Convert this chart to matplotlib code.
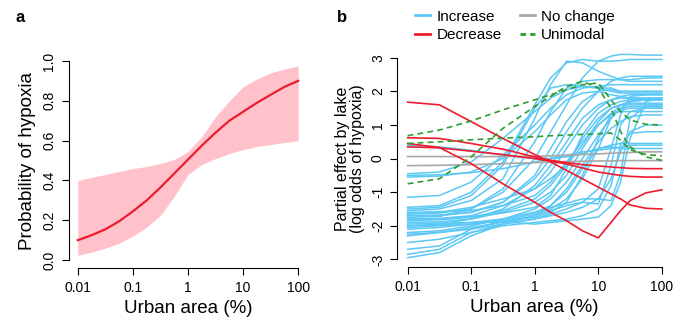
import numpy as np
import matplotlib.pyplot as plt

plt.rcParams['font.family'] = ['Liberation Sans', 'DejaVu Sans']

# ---- panel a: fitted probability of hypoxia vs urban area ----
urban_a = [-2, -1.75, -1.5, -1.25, -1, -0.75, -0.5, -0.25, 0,
           0.25, 0.5, 0.75, 1, 1.25, 1.5, 1.75, 2]          # log10(%)
prob_mean = [0.10, 0.125, 0.155, 0.195, 0.245, 0.30, 0.365, 0.435, 0.505,
             0.575, 0.64, 0.70, 0.745, 0.79, 0.83, 0.87, 0.90]
prob_upper = [0.40, 0.415, 0.43, 0.445, 0.46, 0.47, 0.485, 0.505, 0.545,
              0.62, 0.72, 0.80, 0.87, 0.91, 0.94, 0.96, 0.975]
prob_lower = [0.025, 0.04, 0.06, 0.085, 0.12, 0.165, 0.225, 0.32, 0.43,
              0.48, 0.51, 0.535, 0.555, 0.57, 0.58, 0.59, 0.60]

# ---- panel b: partial effect by lake (log odds) ----
urban_b = [-2, -1.5, -1, -0.5, 0, 0.25, 0.5, 0.75, 1, 1.2, 1.35, 1.5, 1.75, 2]

increase = [
    [0.4, 0.35, 0.25, 0.1, 0.0, 0.0, 0.05, 0.15, 0.3, 0.4, 0.45, 0.45, 0.45, 0.45],
    [-0.45, -0.4, -0.1, 0.6, 1.4, 1.8, 2.05, 2.15, 2.1, 2.0, 1.95, 1.95, 1.95, 1.95],
    [-0.55, -0.52, -0.4, 0.0, 0.8, 1.3, 1.75, 1.95, 2.0, 1.9, 1.85, 1.8, 1.8, 1.8],
    [-0.5, -0.48, -0.42, -0.3, -0.1, 0.0, 0.1, 0.2, 0.25, 0.3, 0.35, 0.4, 0.4, 0.4],
    [-1.15, -1.1, -0.7, 0.1, 1.0, 1.5, 1.9, 2.1, 2.15, 2.2, 2.2, 2.2, 2.2, 2.2],
    [-1.45, -1.4, -1.0, -0.1, 1.6, 2.4, 2.85, 2.95, 2.9, 2.9, 2.92, 2.95, 2.95, 2.95],
    [-1.55, -1.5, -1.25, -0.6, 1.2, 2.2, 2.9, 2.85, 2.6, 2.45, 2.35, 2.35, 2.4, 2.4],
    [-1.65, -1.62, -1.5, -1.0, 0.0, 0.8, 1.6, 2.4, 2.9, 3.05, 3.1, 3.1, 3.08, 3.08],
    [-1.7, -1.68, -1.6, -1.3, -0.6, 0.0, 0.8, 1.5, 2.0, 2.3, 2.4, 2.45, 2.45, 2.45],
    [-1.75, -1.72, -1.5, -0.9, 0.5, 1.4, 2.1, 2.3, 2.35, 2.35, 2.35, 2.3, 2.3, 2.3],
    [-1.8, -1.78, -1.7, -1.4, -0.9, -0.4, 0.3, 1.0, 1.5, 1.75, 1.85, 1.9, 1.9, 1.9],
    [-1.85, -1.82, -1.75, -1.55, -1.2, -0.8, -0.2, 0.6, 1.2, 1.5, 1.6, 1.65, 1.65, 1.65],
    [-1.9, -1.88, -1.8, -1.5, -0.8, -0.2, 0.5, 1.2, 1.6, 1.75, 1.8, 1.8, 1.8, 1.8],
    [-1.6, -1.58, -1.55, -1.4, -1.1, -0.7, -0.1, 0.5, 1.0, 1.3, 1.45, 1.5, 1.5, 1.5],
    [-1.7, -1.7, -1.6, -1.3, -0.5, 0.3, 1.1, 1.7, 2.0, 2.05, 2.0, 2.0, 2.0, 2.0],
    [-1.8, -1.8, -1.72, -1.62, -1.45, -1.1, -0.3, 0.7, 1.35, 1.6, 1.7, 1.75, 1.75, 1.75],
    [-2.0, -1.98, -1.9, -1.8, -1.5, -1.2, -0.7, 0.0, 0.7, 1.2, 1.5, 1.7, 1.75, 1.75],
    [-2.05, -2.0, -1.95, -1.85, -1.75, -1.6, -1.3, -0.5, 0.6, 1.3, 1.6, 1.7, 1.75, 1.75],
    [-1.95, -1.92, -1.9, -1.88, -1.95, -1.9, -1.85, -1.8, -1.74, -1.4, -0.7, 0.6, 1.7, 1.8],
    [-2.1, -2.05, -1.95, -1.8, -1.6, -1.45, -1.33, -1.2, -1.2, -1.25, -0.45, 1.2, 1.55, 1.6],
    [-2.3, -2.2, -2.05, -1.9, -1.7, -1.55, -1.4, -1.3, -1.35, -0.2, 1.0, 1.4, 1.5, 1.5],
    [-2.5, -2.4, -2.2, -1.95, -1.8, -1.7, -1.6, -1.45, -1.2, -0.6, 0.2, 0.8, 1.0, 1.0],
    [-2.7, -2.6, -2.1, -1.85, -1.65, -1.5, -1.2, -0.6, 0.3, 1.2, 1.5, 1.55, 1.55, 1.55],
    [-2.85, -2.7, -2.2, -2.0, -1.9, -1.85, -1.8, -1.7, -1.5, -0.8, 0.4, 0.75, 0.8, 0.8],
    [-2.95, -2.8, -2.3, -1.95, -1.7, -1.4, -0.9, -0.2, 0.5, 0.9, 1.1, 1.25, 1.3, 1.3],
    [-2.2, -2.15, -2.0, -1.8, -1.6, -1.4, -1.0, -0.3, 0.3, 0.35, 0.3, 0.3, 0.3, 0.3],
    [-1.5, -1.45, -1.1, -0.2, 1.5, 2.1, 2.2, 2.15, 2.1, 2.1, 2.0, 2.0, 2.0, 2.0],
    [-2.25, -2.2, -2.1, -1.95, -1.8, -1.65, -1.5, -1.3, -0.9, 0.3, 1.3, 1.85, 1.9, 1.9],
    [-1.65, -1.6, -1.45, -1.2, -0.9, -0.6, -0.2, 0.4, 1.1, 1.5, 1.6, 1.6, 1.6, 1.6],
    [-2.0, -1.95, -1.8, -1.6, -1.3, -1.0, -0.5, 0.3, 1.0, 1.35, 1.4, 1.4, 1.4, 1.4],
]
decrease = [
    [1.68, 1.6, 1.1, 0.6, 0.12, -0.1, -0.35, -0.6, -0.85, -1.05, -1.2, -1.38, -1.48, -1.5],
    [0.45, 0.33, -0.15, -0.75, -1.3, -1.6, -1.85, -2.15, -2.36, -1.9, -1.55, -1.25, -1.02, -0.93],
    [0.62, 0.6, 0.45, 0.28, 0.05, -0.05, -0.12, -0.18, -0.22, -0.25, -0.27, -0.29, -0.3, -0.3],
    [0.35, 0.32, 0.22, 0.12, 0.0, -0.08, -0.16, -0.28, -0.4, -0.46, -0.5, -0.53, -0.55, -0.55],
]
no_change = [
    [0.06, 0.06, 0.06, 0.06, 0.07, 0.08, 0.1, 0.12, 0.14, 0.16, 0.17, 0.18, 0.2, 0.2],
    [-0.21, -0.2, -0.18, -0.15, -0.12, -0.1, -0.09, -0.08, -0.07, -0.07, -0.06, -0.06, -0.06, -0.06],
]
unimodal = [
    [0.68, 0.85, 1.12, 1.45, 1.75, 1.9, 2.05, 2.2, 2.25, 1.75, 1.4, 1.15, 1.02, 1.0],
    [0.45, 0.5, 0.56, 0.61, 0.65, 0.68, 0.7, 0.72, 0.74, 0.76, 0.55, 0.26, 0.12, 0.08],
    [-0.75, -0.6, 0.05, 0.9, 1.55, 1.85, 2.15, 2.3, 2.1, 1.5, 0.8, 0.35, 0.05, -0.05],
]

tick_vals = [0.01, 0.1, 1, 10, 100]
tick_labels = ['0.01', '0.1', '1', '10', '100']

BLUE = '#5BC8F5'
RED = '#EE1C2E'
GREEN = '#2E9E2E'
GRAY = '#A8A8A8'


def style_axes(ax, ylo, yhi, yticks, ylabels):
    for s in ['top', 'right']:
        ax.spines[s].set_visible(False)
    ax.spines['left'].set_bounds(ylo, yhi)
    ax.spines['bottom'].set_bounds(0.01, 100)
    ax.set_xscale('log')
    ax.set_xlim(10 ** -2.16, 10 ** 2.16)
    ax.set_xticks(tick_vals)
    ax.set_xticklabels(tick_labels)
    ax.minorticks_off()
    ax.set_yticks(yticks)
    ax.set_yticklabels(ylabels, rotation=90, va='center')
    ax.tick_params(length=5, width=0.8, labelsize=10, pad=4)
    ax.set_xlabel('Urban area (%)', fontsize=13.5, labelpad=4)


fig = plt.figure(figsize=(6.9, 3.23), dpi=100)

# panel a
ax1 = fig.add_axes([0.1, 0.170, 0.345, 0.666])
xa = 10 ** np.array(urban_a)
ax1.fill_between(xa, prob_lower, prob_upper, color='#FFC2CA', lw=0)
ax1.plot(xa, prob_mean, color=RED, lw=1.6)
ax1.set_ylim(-0.04, 1.04)
style_axes(ax1, 0, 1, [0, 0.2, 0.4, 0.6, 0.8, 1.0],
           ['0.0', '0.2', '0.4', '0.6', '0.8', '1.0'])
ax1.set_ylabel('Probability of hypoxia', fontsize=13.5, labelpad=5)

# panel b
ax2 = fig.add_axes([0.576, 0.172, 0.398, 0.674])
xb = 10 ** np.array(urban_b)
for ys in increase:
    ax2.plot(xb, ys, color=BLUE, lw=1.1)
for ys in no_change:
    ax2.plot(xb, ys, color=GRAY, lw=1.2)
for ys in decrease:
    ax2.plot(xb, ys, color=RED, lw=1.2)
for ys in unimodal:
    ax2.plot(xb, ys, color=GREEN, lw=1.2, ls=(0, (3.5, 2.5)))
ax2.set_ylim(-3.24, 3.24)
style_axes(ax2, -3, 3, [-3, -2, -1, 0, 1, 2, 3],
           ['-3', '-2', '-1', '0', '1', '2', '3'])
ax2.set_ylabel('Partial effect by lake\n(log odds of hypoxia)', fontsize=11.5,
               labelpad=4, linespacing=1.05)

handles = [plt.Line2D([], [], color=BLUE, lw=2),
           plt.Line2D([], [], color=RED, lw=2),
           plt.Line2D([], [], color=GRAY, lw=2),
           plt.Line2D([], [], color=GREEN, lw=2, ls=(0, (2, 1.5)))]
fig.legend(handles, ['Increase', 'Decrease', 'No change', 'Unimodal'],
           ncol=2, loc='upper left', bbox_to_anchor=(0.588, 0.998),
           frameon=False, fontsize=11, handlelength=1.0, handletextpad=0.4,
           columnspacing=1.2, labelspacing=0.3, borderaxespad=0.2)

fig.text(0.022, 0.945, 'a', fontsize=12, fontweight='bold', va='center')
fig.text(0.488, 0.945, 'b', fontsize=12, fontweight='bold', va='center')

fig.savefig('out.png', dpi=100)
